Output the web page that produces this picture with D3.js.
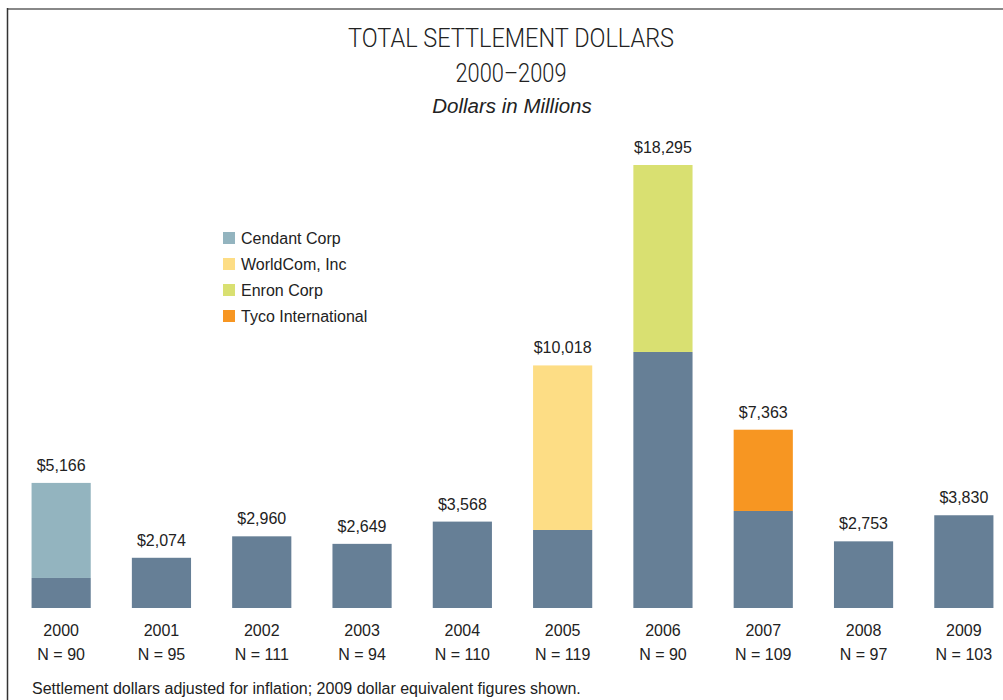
<!DOCTYPE html>
<html>
<head>
<meta charset="utf-8">
<script src="https://cdn.jsdelivr.net/npm/d3@7"></script>
<style>
  body { margin: 0; background: #fff; }
  svg { display: block; }
</style>
</head>
<body>
<div id="chart"></div>
<script>
"use strict";

// data (millions of 2009 dollars)
const years = ["2000", "2001", "2002", "2003", "2004", "2005", "2006", "2007", "2008", "2009"];
const counts = [90, 95, 111, 94, 110, 119, 90, 109, 97, 103];
const totals = [5166, 2074, 2960, 2649, 3568, 10018, 18295, 7363, 2753, 3830];
// the one big case that sits on top of the year's bar
const bigCase = [3926, 0, 0, 0, 0, 6796, 7721, 3356, 0, 0];
const caseNames = ["Cendant Corp", "WorldCom, Inc", "Enron Corp", "Tyco International"];
const caseYear = ["2000", "2005", "2006", "2007"];
const caseColors = ["#93b4bf", "#fddd85", "#d9e071", "#f79622"];
const baseColor = "#667f96";

const W = 1003, H = 700;
const svg = d3.select("#chart").append("svg")
  .attr("width", W).attr("height", H)
  .style("font-family", "Arial, 'Liberation Sans', sans-serif");

// frame: grey top rule, dark left rule
svg.append("line").attr("x1", 7).attr("x2", W).attr("y1", 9).attr("y2", 9)
  .attr("stroke", "#888").attr("stroke-width", 2);
svg.append("line").attr("x1", 7.5).attr("x2", 7.5).attr("y1", 8).attr("y2", H)
  .attr("stroke", "#333").attr("stroke-width", 1.5);

// titles - condensed light face, squeezed to the reference width
svg.append("text").attr("x", 511).attr("y", 47).attr("text-anchor", "middle")
  .style("font-family", "Roboto, sans-serif")
  .style("font-size", "25px").style("font-weight", 300).attr("fill", "#222")
  .attr("textLength", 326).attr("lengthAdjust", "spacingAndGlyphs")
  .text("TOTAL SETTLEMENT DOLLARS");
svg.append("text").attr("x", 511).attr("y", 82).attr("text-anchor", "middle")
  .style("font-family", "Roboto, sans-serif")
  .style("font-size", "25px").style("font-weight", 300).attr("fill", "#222")
  .attr("textLength", 111).attr("lengthAdjust", "spacingAndGlyphs")
  .text("2000–2009");
svg.append("text").attr("x", 512).attr("y", 113).attr("text-anchor", "middle")
  .style("font-size", "20.5px").style("font-style", "italic").attr("fill", "#222")
  .text("Dollars in Millions");

const x = d3.scaleBand().domain(years).range([11, 1014]).paddingInner(0.41).paddingOuter(0.205);
const y = d3.scaleLinear().domain([0, 18295]).range([608, 165]);

const rows = years.map((yr, i) => ({
  year: yr, n: counts[i], total: totals[i], extra: bigCase[i], base: totals[i] - bigCase[i]
}));

const bars = svg.append("g");
bars.selectAll("rect.base").data(rows).enter().append("rect")
  .attr("class", "base")
  .attr("x", d => x(d.year)).attr("width", x.bandwidth())
  .attr("y", d => y(d.base)).attr("height", d => y(0) - y(d.base))
  .attr("fill", baseColor);

bars.selectAll("rect.extra").data(rows.filter(d => d.extra > 0)).enter().append("rect")
  .attr("class", "extra")
  .attr("x", d => x(d.year)).attr("width", x.bandwidth())
  .attr("y", d => y(d.total)).attr("height", d => y(d.base) - y(d.total))
  .attr("fill", d => caseColors[caseYear.indexOf(d.year)]);

// value labels
svg.append("g").selectAll("text").data(rows).enter().append("text")
  .attr("x", d => x(d.year) + x.bandwidth() / 2)
  .attr("y", d => y(d.total) - 12)
  .attr("text-anchor", "middle").style("font-size", "16px").attr("fill", "#222")
  .text(d => "$" + d3.format(",")(d.total));

// category labels
const cats = svg.append("g").selectAll("g").data(rows).enter().append("g")
  .attr("transform", d => "translate(" + (x(d.year) + x.bandwidth() / 2) + ",0)");
cats.append("text").attr("y", 636).attr("text-anchor", "middle")
  .style("font-size", "16px").attr("fill", "#222").text(d => d.year);
cats.append("text").attr("y", 660).attr("text-anchor", "middle")
  .style("font-size", "16px").attr("fill", "#222").text(d => "N = " + d.n);

// legend
const legend = svg.append("g").attr("transform", "translate(223,232)");
const item = legend.selectAll("g").data(caseNames).enter().append("g")
  .attr("transform", (d, i) => "translate(0," + i * 26 + ")");
item.append("rect").attr("width", 12).attr("height", 12)
  .attr("fill", (d, i) => caseColors[i]);
item.append("text").attr("x", 18).attr("y", 12)
  .style("font-size", "16px").attr("fill", "#222").text(d => d);

// footnote
svg.append("text").attr("x", 32).attr("y", 694)
  .style("font-size", "16px").attr("fill", "#222")
  .text("Settlement dollars adjusted for inflation; 2009 dollar equivalent figures shown.");
</script>
</body>
</html>
